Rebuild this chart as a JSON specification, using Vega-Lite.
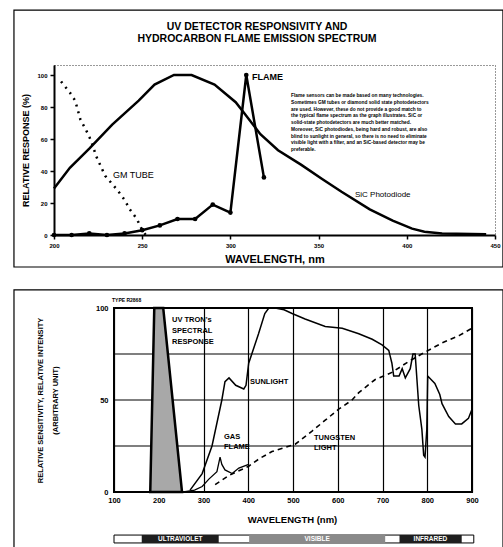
{
  "$schema": "https://vega.github.io/schema/vega-lite/v6.json",
  "padding": {"left": 12, "top": 8, "right": 0, "bottom": 0},
  "spacing": 20,
  "config": {"font": "Liberation Sans", "view": {"stroke": null}, "axis": {"labelOverlap": false}},
  "datasets": {
    "one": [{}],
    "sic": [
      {"wavelength": 200, "response": 29}, {"wavelength": 209, "response": 42}, {"wavelength": 220, "response": 54},
      {"wavelength": 233, "response": 69}, {"wavelength": 248, "response": 84}, {"wavelength": 257, "response": 94},
      {"wavelength": 268, "response": 100}, {"wavelength": 278, "response": 100}, {"wavelength": 291, "response": 94},
      {"wavelength": 303, "response": 83}, {"wavelength": 308, "response": 76}, {"wavelength": 317, "response": 63},
      {"wavelength": 327, "response": 53}, {"wavelength": 340, "response": 44}, {"wavelength": 352, "response": 35},
      {"wavelength": 363, "response": 27}, {"wavelength": 379, "response": 16}, {"wavelength": 392, "response": 9},
      {"wavelength": 403, "response": 4}, {"wavelength": 410, "response": 2}, {"wavelength": 420, "response": 1},
      {"wavelength": 445, "response": 0.5}
    ],
    "gm": [
      {"wavelength": 204, "response": 96}, {"wavelength": 209, "response": 89}, {"wavelength": 212, "response": 84},
      {"wavelength": 215, "response": 72}, {"wavelength": 218, "response": 66}, {"wavelength": 221, "response": 59},
      {"wavelength": 224, "response": 49}, {"wavelength": 229, "response": 37}, {"wavelength": 236, "response": 28},
      {"wavelength": 240, "response": 22}, {"wavelength": 243, "response": 16}, {"wavelength": 247, "response": 10},
      {"wavelength": 250, "response": 3}, {"wavelength": 252, "response": 0}
    ],
    "flame": [
      {"wavelength": 200, "response": 0}, {"wavelength": 210, "response": 0}, {"wavelength": 220, "response": 1},
      {"wavelength": 230, "response": 0}, {"wavelength": 240, "response": 1}, {"wavelength": 250, "response": 3},
      {"wavelength": 260, "response": 6}, {"wavelength": 270, "response": 10}, {"wavelength": 280, "response": 10},
      {"wavelength": 290, "response": 19}, {"wavelength": 300, "response": 14}, {"wavelength": 309, "response": 100},
      {"wavelength": 319, "response": 36}
    ],
    "ygrid": [{"level": 0}, {"level": 25}, {"level": 50}, {"level": 75}, {"level": 100}],
    "uvtron": [
      {"wavelength": 181, "intensity": 0}, {"wavelength": 190, "intensity": 100},
      {"wavelength": 210, "intensity": 100}, {"wavelength": 252, "intensity": 0}
    ],
    "sunlight": [
      {"wavelength": 270, "intensity": 1}, {"wavelength": 297, "intensity": 10}, {"wavelength": 319, "intensity": 25},
      {"wavelength": 341, "intensity": 50}, {"wavelength": 348, "intensity": 60}, {"wavelength": 357, "intensity": 62},
      {"wavelength": 372, "intensity": 58}, {"wavelength": 390, "intensity": 56}, {"wavelength": 395, "intensity": 58},
      {"wavelength": 401, "intensity": 70}, {"wavelength": 423, "intensity": 86}, {"wavelength": 437, "intensity": 97},
      {"wavelength": 446, "intensity": 100}, {"wavelength": 460, "intensity": 100}, {"wavelength": 480, "intensity": 99},
      {"wavelength": 498, "intensity": 97}, {"wavelength": 527, "intensity": 94}, {"wavelength": 572, "intensity": 90},
      {"wavelength": 610, "intensity": 89}, {"wavelength": 647, "intensity": 86}, {"wavelength": 677, "intensity": 83},
      {"wavelength": 699, "intensity": 80}, {"wavelength": 714, "intensity": 77}, {"wavelength": 717, "intensity": 74},
      {"wavelength": 721, "intensity": 70}, {"wavelength": 725, "intensity": 63}, {"wavelength": 737, "intensity": 63},
      {"wavelength": 744, "intensity": 67}, {"wavelength": 751, "intensity": 62}, {"wavelength": 762, "intensity": 67},
      {"wavelength": 768, "intensity": 75}, {"wavelength": 773, "intensity": 75}, {"wavelength": 777, "intensity": 61},
      {"wavelength": 781, "intensity": 47}, {"wavelength": 788, "intensity": 34}, {"wavelength": 792, "intensity": 20},
      {"wavelength": 795, "intensity": 19}, {"wavelength": 799, "intensity": 34}, {"wavelength": 800, "intensity": 48},
      {"wavelength": 801, "intensity": 63}, {"wavelength": 817, "intensity": 59}, {"wavelength": 828, "intensity": 53},
      {"wavelength": 833, "intensity": 48}, {"wavelength": 848, "intensity": 41}, {"wavelength": 863, "intensity": 37},
      {"wavelength": 877, "intensity": 37}, {"wavelength": 892, "intensity": 40}, {"wavelength": 900, "intensity": 45}
    ],
    "gasflame": [
      {"wavelength": 255, "intensity": 0}, {"wavelength": 280, "intensity": 1}, {"wavelength": 297, "intensity": 3},
      {"wavelength": 312, "intensity": 7}, {"wavelength": 330, "intensity": 11}, {"wavelength": 337, "intensity": 19},
      {"wavelength": 341, "intensity": 15}, {"wavelength": 348, "intensity": 12}, {"wavelength": 364, "intensity": 10},
      {"wavelength": 379, "intensity": 13}, {"wavelength": 401, "intensity": 15}
    ],
    "tungsten": [
      {"wavelength": 326, "intensity": 4}, {"wavelength": 357, "intensity": 9}, {"wavelength": 401, "intensity": 14},
      {"wavelength": 424, "intensity": 18}, {"wavelength": 453, "intensity": 22}, {"wavelength": 505, "intensity": 26},
      {"wavelength": 542, "intensity": 33}, {"wavelength": 572, "intensity": 39}, {"wavelength": 602, "intensity": 45},
      {"wavelength": 632, "intensity": 50}, {"wavelength": 647, "intensity": 54}, {"wavelength": 683, "intensity": 61},
      {"wavelength": 721, "intensity": 65}, {"wavelength": 759, "intensity": 71}, {"wavelength": 795, "intensity": 76},
      {"wavelength": 833, "intensity": 81}, {"wavelength": 871, "intensity": 85}, {"wavelength": 900, "intensity": 89}
    ],
    "bands": [
      {"region": "ULTRAVIOLET", "from": 162, "to": 334, "center": 248},
      {"region": "VISIBLE", "from": 402, "to": 706, "center": 554},
      {"region": "INFRARED", "from": 738, "to": 877, "center": 807}
    ]
  },
  "vconcat": [
    {
      "width": 441,
      "height": 170,
      "view": {"stroke": "#333", "strokeDash": [1, 2], "strokeWidth": 1},
      "layer": [
        {
          "data": {"name": "sic"},
          "mark": {"type": "line", "color": "black", "strokeWidth": 2.5},
          "encoding": {
            "x": {"field": "wavelength", "type": "quantitative",
              "scale": {"domain": [200, 450], "nice": false, "zero": false},
              "axis": {"title": "WAVELENGTH, nm", "values": [200, 250, 300, 350, 400, 450], "grid": false,
                "labelOverlap": false, "labelFlush": false,
                "domainColor": "black", "domainWidth": 2, "tickColor": "black", "tickSize": 4, "tickWidth": 1.5,
                "labelFontSize": 6, "labelFontWeight": "bold", "labelColor": "black", "labelPadding": 3,
                "titleFontSize": 11, "titleFontWeight": "bold", "titleColor": "black", "titlePadding": 5}},
            "y": {"field": "response", "type": "quantitative",
              "scale": {"domain": [0, 106.25], "nice": false},
              "axis": {"title": "RELATIVE RESPONSE (%)", "tickCount": 5, "grid": false,
                "labelOverlap": false, "labelFlush": false,
                "domainColor": "black", "domainWidth": 2, "tickColor": "black", "tickSize": 4, "tickWidth": 1.5,
                "labelFontSize": 6, "labelFontWeight": "bold", "labelColor": "black", "labelPadding": 3,
                "titleFontSize": 9, "titleFontWeight": "bold", "titleColor": "black", "titlePadding": 6}}
          }
        },
        {
          "data": {"name": "gm"},
          "mark": {"type": "line", "color": "black", "strokeWidth": 2.5, "strokeDash": [2, 5]},
          "encoding": {
            "x": {"field": "wavelength", "type": "quantitative"},
            "y": {"field": "response", "type": "quantitative"}
          }
        },
        {
          "data": {"name": "flame"},
          "mark": {"type": "line", "color": "black", "strokeWidth": 2.5, "point": {"filled": true, "color": "black", "size": 22}},
          "encoding": {
            "x": {"field": "wavelength", "type": "quantitative"},
            "y": {"field": "response", "type": "quantitative"}
          }
        },
        {
          "data": {"name": "one"},
          "mark": {"type": "rect", "fillOpacity": 0, "stroke": "black", "strokeWidth": 1.2},
          "encoding": {
            "x": {"datum": 177.3, "type": "quantitative"},
            "x2": {"datum": 454.5},
            "y": {"datum": 140.6, "type": "quantitative"},
            "y2": {"datum": -20}
          }
        },
        {
          "data": {"name": "one"},
          "mark": {"type": "text", "text": ["UV DETECTOR RESPONSIVITY AND", "HYDROCARBON FLAME EMISSION SPECTRUM"],
            "fontSize": 10.5, "fontWeight": "bold", "lineHeight": 11.5, "align": "center", "baseline": "middle", "color": "black"},
          "encoding": {
            "x": {"datum": 315.1, "type": "quantitative"},
            "y": {"datum": 130, "type": "quantitative"}
          }
        },
        {
          "data": {"name": "one"},
          "mark": {"type": "text", "text": "FLAME", "fontSize": 9, "fontWeight": "bold", "align": "left", "baseline": "middle", "color": "black"},
          "encoding": {
            "x": {"datum": 312.2, "type": "quantitative"},
            "y": {"datum": 98.75, "type": "quantitative"}
          }
        },
        {
          "data": {"name": "one"},
          "mark": {"type": "text", "text": "GM TUBE", "fontSize": 9, "align": "left", "baseline": "middle", "color": "black"},
          "encoding": {
            "x": {"datum": 233.4, "type": "quantitative"},
            "y": {"datum": 37.5, "type": "quantitative"}
          }
        },
        {
          "data": {"name": "one"},
          "mark": {"type": "text", "text": "SiC Photodiode", "fontSize": 8, "align": "left", "baseline": "middle", "color": "black"},
          "encoding": {
            "x": {"datum": 370.6, "type": "quantitative"},
            "y": {"datum": 25, "type": "quantitative"}
          }
        },
        {
          "data": {"name": "one"},
          "mark": {"type": "text", "text": [
              "Flame sensors can be made based on many technologies.",
              "Sometimes GM tubes or diamond solid state photodetectors",
              "are used. However, these do not provide a good match to",
              "the typical flame spectrum as the graph illustrates. SiC or",
              "solid-state photodetectors are much better matched.",
              "Moreover, SiC photodiodes, being hard and robust, are also",
              "blind to sunlight in general, so there is no need to eliminate",
              "visible light with a filter, and an SiC-based detector may be",
              "preferable."],
            "fontSize": 4.8, "fontWeight": "bold", "lineHeight": 6.7, "align": "left", "baseline": "top", "color": "black"},
          "encoding": {
            "x": {"datum": 334.4, "type": "quantitative"},
            "y": {"datum": 88.5, "type": "quantitative"}
          }
        }
      ]
    },
    {
      "width": 418,
      "height": 184,
      "layer": [
        {
          "data": {"name": "ygrid"},
          "mark": {"type": "rule", "color": "black", "strokeWidth": 1.2},
          "encoding": {
            "x": {"datum": 100, "type": "quantitative"},
            "x2": {"datum": 900},
            "y": {"field": "level", "type": "quantitative"}
          }
        },
        {
          "data": {"name": "sunlight"},
          "mark": {"type": "line", "color": "black", "strokeWidth": 1.5},
          "encoding": {
            "x": {"field": "wavelength", "type": "quantitative",
              "scale": {"domain": [-34.08, 900], "nice": false, "zero": false},
              "axis": {"title": "WAVELENGTH (nm)", "values": [100, 200, 300, 400, 500, 600, 700, 800, 900],
                "labelOverlap": false, "labelFlush": false, "titleX": 238,
                "grid": true, "gridColor": "black", "gridWidth": 1.2, "gridOpacity": 1, "domain": false, "ticks": false,
                "labelFontSize": 7.5, "labelFontWeight": "bold", "labelColor": "black", "labelPadding": 4,
                "titleFontSize": 9.5, "titleFontWeight": "bold", "titleColor": "black", "titlePadding": 11}},
            "y": {"field": "intensity", "type": "quantitative",
              "scale": {"domain": [0, 100], "nice": false},
              "axis": {"title": ["RELATIVE SENSITIVITY, RELATIVE INTENSITY", "(ARBITRARY UNIT)"],
                "values": [0, 50, 100], "offset": -60,
                "labelOverlap": false, "labelFlush": false,
                "grid": false, "domain": false, "ticks": false,
                "labelFontSize": 7.5, "labelFontWeight": "bold", "labelColor": "black", "labelPadding": 6,
                "titleFontSize": 7.5, "titleFontWeight": "bold", "titleColor": "black", "titleLineHeight": 15, "titlePadding": 36}}
          }
        },
        {
          "data": {"name": "gasflame"},
          "mark": {"type": "line", "color": "black", "strokeWidth": 1.3},
          "encoding": {
            "x": {"field": "wavelength", "type": "quantitative"},
            "y": {"field": "intensity", "type": "quantitative"}
          }
        },
        {
          "data": {"name": "tungsten"},
          "mark": {"type": "line", "color": "black", "strokeWidth": 1.6, "strokeDash": [5, 4]},
          "encoding": {
            "x": {"field": "wavelength", "type": "quantitative"},
            "y": {"field": "intensity", "type": "quantitative"}
          }
        },
        {
          "data": {"name": "uvtron"},
          "mark": {"type": "area", "fill": "#a8a8a8", "stroke": "black", "strokeWidth": 2.5},
          "encoding": {
            "x": {"field": "wavelength", "type": "quantitative"},
            "y": {"field": "intensity", "type": "quantitative"}
          }
        },
        {
          "data": {"name": "one"},
          "mark": {"type": "rect", "fillOpacity": 0, "stroke": "black", "strokeWidth": 2},
          "encoding": {
            "x": {"datum": 100, "type": "quantitative"},
            "x2": {"datum": 900},
            "y": {"datum": 100, "type": "quantitative"},
            "y2": {"datum": 0}
          }
        },
        {
          "data": {"name": "one"},
          "mark": {"type": "rect", "fillOpacity": 0, "stroke": "black", "strokeWidth": 1.2},
          "encoding": {
            "x": {"datum": -123.5, "type": "quantitative"},
            "x2": {"datum": 969.3},
            "y": {"datum": 109.8, "type": "quantitative"},
            "y2": {"datum": -31.5}
          }
        },
        {
          "data": {"name": "one"},
          "mark": {"type": "rect", "fill": "white", "stroke": "black", "strokeWidth": 1},
          "encoding": {
            "x": {"datum": 100, "type": "quantitative"},
            "x2": {"datum": 904},
            "y": {"datum": -23.4, "type": "quantitative"},
            "y2": {"datum": -27.7}
          }
        },
        {
          "data": {"name": "bands"},
          "mark": {"type": "rect"},
          "encoding": {
            "x": {"field": "from", "type": "quantitative"},
            "x2": {"field": "to"},
            "y": {"datum": -23.4, "type": "quantitative"},
            "y2": {"datum": -27.7},
            "color": {"field": "region", "type": "nominal", "legend": null,
              "scale": {"domain": ["ULTRAVIOLET", "VISIBLE", "INFRARED"], "range": ["#1e1e1e", "#8a8a8a", "#1e1e1e"]}}
          }
        },
        {
          "data": {"name": "bands"},
          "mark": {"type": "text", "fontSize": 6.5, "fontWeight": "bold", "color": "white", "align": "center", "baseline": "middle"},
          "encoding": {
            "x": {"field": "center", "type": "quantitative"},
            "y": {"datum": -25.55, "type": "quantitative"},
            "text": {"field": "region"}
          }
        },
        {
          "data": {"name": "one"},
          "mark": {"type": "text", "text": "TYPE R2868", "fontSize": 5, "fontWeight": "bold", "align": "left", "baseline": "middle", "color": "black"},
          "encoding": {
            "x": {"datum": 95.5, "type": "quantitative"},
            "y": {"datum": 104.3, "type": "quantitative"}
          }
        },
        {
          "data": {"name": "one"},
          "mark": {"type": "text", "text": ["UV TRON's", "SPECTRAL", "RESPONSE"], "fontSize": 7.5, "fontWeight": "bold", "lineHeight": 11, "align": "left", "baseline": "top", "color": "black"},
          "encoding": {
            "x": {"datum": 229.6, "type": "quantitative"},
            "y": {"datum": 95.4, "type": "quantitative"}
          }
        },
        {
          "data": {"name": "one"},
          "mark": {"type": "text", "text": "SUNLIGHT", "fontSize": 7.5, "fontWeight": "bold", "align": "left", "baseline": "middle", "color": "black"},
          "encoding": {
            "x": {"datum": 403.9, "type": "quantitative"},
            "y": {"datum": 59.8, "type": "quantitative"}
          }
        },
        {
          "data": {"name": "one"},
          "mark": {"type": "text", "text": ["GAS", "FLAME"], "fontSize": 7.5, "fontWeight": "bold", "lineHeight": 10, "align": "left", "baseline": "top", "color": "black"},
          "encoding": {
            "x": {"datum": 345.8, "type": "quantitative"},
            "y": {"datum": 32.3, "type": "quantitative"}
          }
        },
        {
          "data": {"name": "one"},
          "mark": {"type": "text", "text": ["TUNGSTEN", "LIGHT"], "fontSize": 7.5, "fontWeight": "bold", "lineHeight": 10, "align": "left", "baseline": "top", "color": "black"},
          "encoding": {
            "x": {"datum": 546.9, "type": "quantitative"},
            "y": {"datum": 31.5, "type": "quantitative"}
          }
        }
      ]
    }
  ]
}
